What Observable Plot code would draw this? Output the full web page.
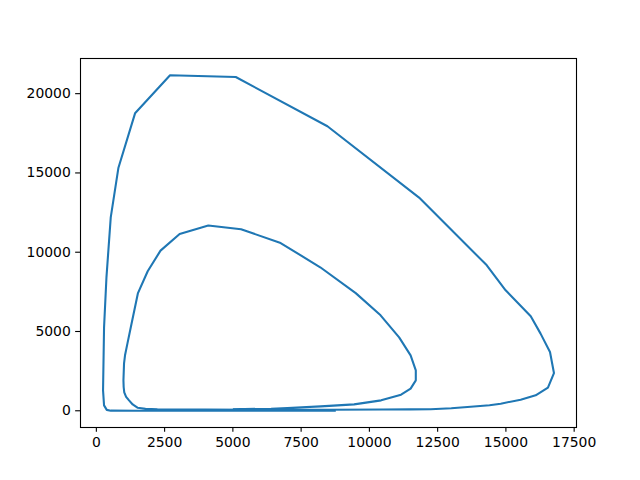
<!DOCTYPE html>
<html><head><meta charset="utf-8">
<script src="https://cdn.jsdelivr.net/npm/d3@7"></script>
<script src="https://cdn.jsdelivr.net/npm/@observablehq/plot@0.6"></script>
<style>body{margin:0;background:#fff} svg{display:block}</style>
</head><body><div id="chart"></div>
<script>
// Trajectory in (prey, predators) phase plane, in drawing order
const prey = [
  5000, 6400, 7000, 8220, 9440, 10430, 11160, 11510, 11700, 11700, 11510, 11090, 10410,
  9500, 8200, 6750, 5300, 4100, 3050, 2350, 1880, 1520, 1290, 1139, 1050, 1014, 992, 1000, 1022, 1090, 1197, 1330, 1505, 1800, 2237,
  4000, 6000, 8580, 10500, 11500, 12245, 13000, 13710, 14400, 14810, 15540, 16090, 16540, 16760, 16615, 16270, 15910,
  14990, 14300, 11820, 8463, 5105, 2699, 1417, 809, 527, 370, 282, 245, 282, 381, 527,
  1500, 3800, 6000, 8770
];
const predators = [
  100, 130, 170, 278, 404, 656, 1016, 1394, 1918, 2549, 3496, 4630, 6020,
  7420, 9050, 10580, 11450, 11680, 11150, 10100, 8800, 7400, 5500, 4253, 3500, 2991, 1918, 1500, 1161, 880, 656, 400, 196, 130, 100,
  72, 66, 68, 78, 88, 100, 160, 250, 350, 448, 700, 972, 1458, 2379, 3704, 4865, 5957,
  7597, 9175, 13447, 17946, 21050, 21160, 18760, 15330, 12200, 8418, 5262, 1287, 341, 57, 8,
  4, 3, 3, 4
];
const xTicks = [0, 2500, 5000, 7500, 10000, 12500, 15000, 17500];
const yTicks = [0, 5000, 10000, 15000, 20000];

const data = prey.map((p, i) => ({prey: p, pred: predators[i]}));

// matplotlib-like 5% margins around data extent
function padded(values) {
  const [a, b] = d3.extent(values);
  const m = (b - a) * 0.05;
  return [a - m, b + m];
}

const fontSize = 13.9;
const chart = Plot.plot({
  width: 640,
  height: 480,
  marginLeft: 80,
  marginRight: 64,
  marginTop: 58,
  marginBottom: 53,
  style: {fontFamily: "DejaVu Sans", fontSize: fontSize + "px", color: "black", background: "white"},
  x: {domain: padded(prey)},
  y: {domain: padded(predators)},
  marks: [
    Plot.line(data, {x: "prey", y: "pred", stroke: "#1f77b4", strokeWidth: 2.08, strokeLinejoin: "round", strokeLinecap: "butt"}),
    Plot.frame({stroke: "black", strokeWidth: 1.1}),
    Plot.axisX(xTicks, {tickSize: 4.86, tickPadding: 4.86, tickFormat: d3.format("d"), strokeWidth: 1.1, fontSize: fontSize, label: null}),
    Plot.axisY(yTicks, {tickSize: 4.86, tickPadding: 4.86, tickFormat: d3.format("d"), strokeWidth: 1.1, fontSize: fontSize, label: null})
  ]
});
document.getElementById("chart").appendChild(chart);
</script>
</body></html>
